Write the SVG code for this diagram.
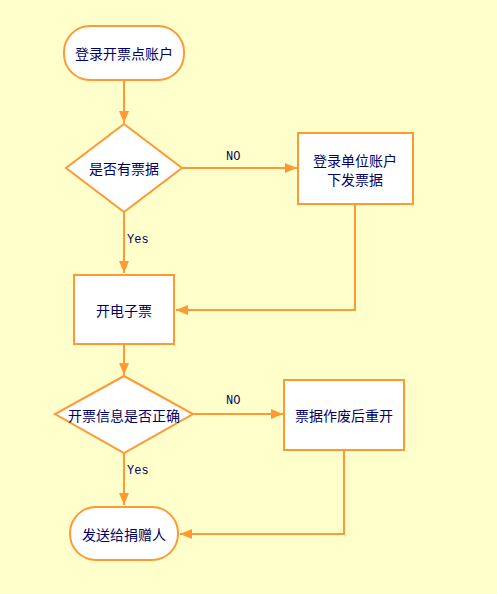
<svg xmlns="http://www.w3.org/2000/svg" width="497" height="594" viewBox="0 0 497 594">
<defs>
<marker id="ah" viewBox="0 0 12 10" refX="12" refY="5" markerWidth="12" markerHeight="10" markerUnits="userSpaceOnUse" orient="auto">
<path d="M0,0 L12,5 L0,10 Z" fill="#FF9933"/>
</marker>
<style>
.s{fill:#FFFFFF;stroke:#FF9933;stroke-width:2}
.t{font-family:"Noto Sans CJK SC","Liberation Sans",sans-serif;font-size:14px;fill:#000066;text-anchor:middle;dominant-baseline:central}
.l{font-family:"Liberation Mono",monospace;font-size:12px;fill:#000066}
.c{fill:none;stroke:#FF9933;stroke-width:2;marker-end:url(#ah)}
</style>
</defs>
<rect width="497" height="594" fill="#FFFFCC"/>
<g id="connectors">
<path class="c" d="M124,80 L124,123"/>
<path class="c" d="M182,168 L297,168"/>
<path class="c" d="M124,212 L124,273"/>
<path class="c" d="M355,204 L355,310 L176,310"/>
<path class="c" d="M124,344 L124,375"/>
<path class="c" d="M193,414 L283,414"/>
<path class="c" d="M124,453 L124,505"/>
<path class="c" d="M344,450 L344,534 L180,534"/>
<text class="l" x="226" y="160">NO</text>
<text class="l" x="127" y="243">Yes</text>
<text class="l" x="226" y="404">NO</text>
<text class="l" x="127" y="474">Yes</text>
</g>
<g id="start">
<rect class="s" x="64" y="26" width="120" height="54" rx="26" ry="26"/>
<text class="t" x="124" y="53">登录开票点账户</text>
</g>
<g id="d1">
<polygon class="s" points="124,124 182,168 124,212 66,168"/>
<text class="t" x="124" y="168">是否有票据</text>
</g>
<g id="b2">
<rect class="s" x="298" y="133" width="115" height="71"/>
<text class="t" x="355" y="160">登录单位账户</text>
<text class="t" x="355" y="179">下发票据</text>
</g>
<g id="b3">
<rect class="s" x="74" y="275" width="100" height="69"/>
<text class="t" x="124" y="310">开电子票</text>
</g>
<g id="d2">
<polygon class="s" points="124,376 193,414 124,453 55,414"/>
<text class="t" x="124" y="415">开票信息是否正确</text>
</g>
<g id="b4">
<rect class="s" x="284" y="380" width="120" height="70"/>
<text class="t" x="344" y="415">票据作废后重开</text>
</g>
<g id="end">
<rect class="s" x="70" y="507" width="108" height="53" rx="26" ry="26"/>
<text class="t" x="124" y="534">发送给捐赠人</text>
</g>
</svg>
